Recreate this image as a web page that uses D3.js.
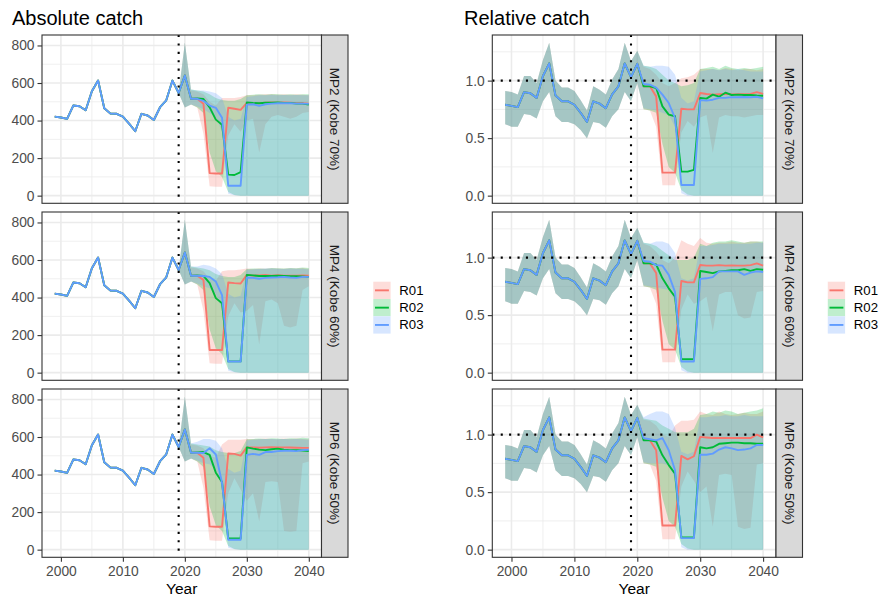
<!DOCTYPE html>
<html>
<head>
<meta charset="utf-8">
<script src="https://cdn.jsdelivr.net/npm/d3@7/dist/d3.min.js"></script>
<style>
  body { margin: 0; background: #fff; }
  text { font-family: "Liberation Sans", Arial, Helvetica, sans-serif; }
</style>
</head>
<body>
<svg id="chart" width="882" height="601"></svg>
<script>
// ---- categories ----
const scenarios = ["R01", "R02", "R03"];
const scenarioColours = ["#F8766D", "#00BA38", "#619CFF"];
const procedures = ["MP2 (Kobe 70%)", "MP4 (Kobe 60%)", "MP6 (Kobe 50%)"];
const columnTitles = ["Absolute catch", "Relative catch"];

const histYears = [1999, 2000, 2001, 2002, 2003, 2004, 2005, 2006, 2007, 2008, 2009,
                   2010, 2011, 2012, 2013, 2014, 2015, 2016, 2017, 2018, 2019];
const projYears = [2020, 2021, 2022, 2023, 2024, 2025, 2026, 2027, 2028, 2029, 2030,
                   2031, 2032, 2033, 2034, 2035, 2036, 2037, 2038, 2039, 2040];
const refYear = 2019;
const refRelative = 1.0;

// ---- tick labels ----
const xTicks = [2000, 2010, 2020, 2030, 2040];
const xMinor = [2005, 2015, 2025, 2035];
const absTicks = [0, 200, 400, 600, 800];
const absMinor = [100, 300, 500, 700];
const relTicks = [0, 0.5, 1.0];
const relTickLabels = ["0.0", "0.5", "1.0"];
const relMinor = [0.25, 0.75, 1.25];

// ---- historical catch ----
const histCatch = [421, 416, 409, 480, 476, 455, 556, 613, 466, 437, 436,
                   421, 384, 343, 436, 427, 403, 471, 508, 613, 547];
const histRel   = [0.79, 0.78, 0.77, 0.90, 0.89, 0.85, 1.04, 1.15, 0.87, 0.82, 0.82,
                   0.79, 0.72, 0.64, 0.82, 0.80, 0.76, 0.88, 0.95, 1.15, 1.03];
const histRelLo = [0.62, 0.60, 0.60, 0.71, 0.70, 0.67, 0.82, 0.90, 0.69, 0.64, 0.64,
                   0.62, 0.57, 0.50, 0.64, 0.63, 0.59, 0.69, 0.75, 0.90, 0.82];
const histRelHi = [0.91, 0.90, 0.88, 1.04, 1.04, 0.98, 1.18, 1.33, 1.00, 0.94, 0.94,
                   0.91, 0.83, 0.74, 0.95, 0.92, 0.88, 1.01, 1.10, 1.33, 1.17];

// ---- projected absolute catch: median, lower, upper (2020-2040) ----
const absMP2R01   = [640, 516, 516, 490, 120, 118, 118, 468, 463, 457, 494, 490, 492, 495, 497, 495, 497, 495, 493, 492, 490];
const absMP2R01lo = [470, 485, 470, 330, 50, 48, 48, 320, 380, 340, 400, 410, 230, 380, 420, 430, 420, 410, 420, 440, 445];
const absMP2R01hi = [815, 560, 555, 540, 500, 480, 520, 520, 520, 525, 535, 535, 538, 540, 540, 538, 540, 538, 540, 538, 535];
const absMP2R02   = [640, 516, 518, 515, 470, 405, 378, 112, 110, 125, 497, 494, 492, 495, 495, 497, 494, 494, 490, 490, 485];
const absMP2R02lo = [470, 485, 470, 440, 230, 130, 100, 20, 3, 0, 0, 0, 0, 0, 0, 0, 0, 0, 0, 0, 0];
const absMP2R02hi = [815, 565, 560, 555, 540, 520, 510, 505, 505, 515, 535, 538, 540, 538, 542, 540, 538, 540, 538, 540, 540];
const absMP2R03   = [640, 516, 516, 505, 480, 468, 415, 53, 53, 53, 485, 487, 478, 487, 490, 492, 492, 492, 490, 490, 489];
const absMP2R03lo = [470, 485, 475, 460, 440, 420, 340, 10, 2, 0, 0, 0, 0, 0, 0, 0, 0, 0, 0, 0, 0];
const absMP2R03hi = [815, 565, 560, 560, 555, 545, 520, 420, 400, 410, 525, 530, 535, 535, 536, 535, 536, 535, 536, 535, 535];

const absMP4R01   = [640, 516, 516, 494, 121, 121, 121, 480, 477, 475, 521, 517, 518, 520, 517, 519, 517, 516, 517, 518, 517];
const absMP4R01lo = [470, 485, 470, 330, 50, 48, 48, 300, 370, 320, 330, 360, 150, 380, 390, 370, 250, 240, 250, 440, 460];
const absMP4R01hi = [815, 560, 555, 540, 500, 490, 540, 545, 545, 550, 555, 552, 555, 553, 556, 555, 553, 556, 555, 557, 552];
const absMP4R02   = [640, 516, 518, 515, 477, 397, 370, 60, 60, 60, 521, 518, 515, 515, 515, 516, 515, 514, 514, 513, 510];
const absMP4R02lo = [470, 485, 470, 440, 230, 130, 100, 20, 3, 0, 0, 0, 0, 0, 0, 0, 0, 0, 0, 0, 0];
const absMP4R02hi = [815, 565, 560, 555, 545, 525, 515, 510, 510, 520, 552, 555, 555, 553, 558, 556, 555, 558, 556, 560, 558];
const absMP4R03   = [640, 516, 516, 515, 510, 485, 413, 59, 59, 59, 507, 505, 500, 505, 507, 508, 510, 507, 505, 510, 510];
const absMP4R03lo = [470, 485, 475, 460, 450, 420, 340, 10, 2, 0, 0, 0, 0, 0, 0, 0, 0, 0, 0, 0, 0];
const absMP4R03hi = [815, 565, 565, 575, 570, 555, 525, 420, 400, 410, 548, 550, 552, 555, 555, 553, 552, 555, 553, 553, 550];

const absMP6R01   = [640, 516, 516, 489, 124, 122, 122, 512, 510, 501, 545, 545, 543, 545, 546, 545, 545, 544, 543, 542, 542];
const absMP6R01lo = [470, 485, 470, 330, 50, 48, 48, 300, 380, 320, 260, 300, 150, 360, 365, 360, 100, 95, 100, 460, 470];
const absMP6R01hi = [815, 560, 555, 540, 500, 490, 560, 585, 585, 585, 590, 588, 590, 592, 590, 588, 592, 590, 592, 590, 588];
const absMP6R02   = [640, 516, 518, 520, 505, 410, 360, 60, 60, 60, 545, 538, 533, 530, 535, 538, 533, 530, 530, 528, 525];
const absMP6R02lo = [470, 485, 470, 440, 230, 130, 100, 20, 3, 0, 0, 0, 0, 0, 0, 0, 0, 0, 0, 0, 0];
const absMP6R02hi = [815, 565, 560, 555, 550, 530, 520, 515, 515, 525, 588, 590, 592, 590, 594, 592, 590, 594, 592, 596, 594];
const absMP6R03   = [640, 516, 516, 515, 540, 507, 356, 53, 53, 53, 505, 510, 505, 520, 520, 525, 527, 527, 525, 530, 532];
const absMP6R03lo = [470, 485, 475, 460, 455, 430, 330, 10, 2, 0, 0, 0, 0, 0, 0, 0, 0, 0, 0, 0, 0];
const absMP6R03hi = [815, 565, 575, 590, 590, 580, 540, 430, 410, 420, 582, 585, 588, 590, 590, 588, 590, 588, 590, 588, 585];

// ---- projected relative catch: median, lower, upper (2020-2040) ----
const relMP2R01   = [1.146, 0.951, 0.95, 0.863, 0.20, 0.20, 0.20, 0.756, 0.75, 0.75, 0.892, 0.884, 0.878, 0.882, 0.885, 0.88, 0.882, 0.882, 0.885, 0.90, 0.884];
const relMP2R01lo = [0.98, 0.75, 0.74, 0.60, 0.09, 0.09, 0.09, 0.55, 0.65, 0.60, 0.68, 0.70, 0.37, 0.68, 0.70, 0.69, 0.69, 0.68, 0.69, 0.70, 0.70];
const relMP2R01hi = [1.26, 1.12, 1.10, 1.05, 0.98, 0.95, 0.98, 1.02, 1.03, 1.05, 1.10, 1.10, 1.10, 1.09, 1.11, 1.10, 1.09, 1.10, 1.10, 1.09, 1.10];
const relMP2R02   = [1.146, 0.951, 0.95, 0.936, 0.776, 0.704, 0.69, 0.209, 0.209, 0.224, 0.849, 0.843, 0.878, 0.86, 0.895, 0.875, 0.878, 0.875, 0.875, 0.87, 0.868];
const relMP2R02lo = [0.98, 0.75, 0.74, 0.72, 0.45, 0.25, 0.20, 0.05, 0.01, 0, 0, 0, 0, 0, 0, 0, 0, 0, 0, 0, 0];
const relMP2R02hi = [1.26, 1.13, 1.12, 1.10, 1.05, 1.00, 0.98, 0.95, 0.96, 0.98, 1.10, 1.11, 1.12, 1.10, 1.13, 1.11, 1.10, 1.11, 1.10, 1.11, 1.12];
const relMP2R03   = [1.146, 0.97, 0.965, 0.94, 0.878, 0.805, 0.675, 0.093, 0.093, 0.093, 0.83, 0.826, 0.834, 0.85, 0.85, 0.856, 0.856, 0.858, 0.855, 0.86, 0.845];
const relMP2R03lo = [0.98, 0.76, 0.75, 0.74, 0.72, 0.70, 0.60, 0.02, 0, 0, 0, 0, 0, 0, 0, 0, 0, 0, 0, 0, 0];
const relMP2R03hi = [1.26, 1.13, 1.12, 1.13, 1.13, 1.12, 1.05, 0.85, 0.80, 0.82, 1.08, 1.09, 1.10, 1.09, 1.10, 1.09, 1.10, 1.09, 1.08, 1.08, 1.08];

const relMP4R01   = [1.146, 0.951, 0.95, 0.866, 0.20, 0.20, 0.20, 0.797, 0.785, 0.785, 0.936, 0.93, 0.93, 0.935, 0.93, 0.932, 0.93, 0.93, 0.935, 0.95, 0.93];
const relMP4R01lo = [0.98, 0.75, 0.74, 0.60, 0.09, 0.09, 0.09, 0.55, 0.68, 0.60, 0.62, 0.66, 0.36, 0.68, 0.70, 0.70, 0.50, 0.47, 0.48, 0.70, 0.71];
const relMP4R01hi = [1.26, 1.12, 1.10, 1.05, 0.98, 0.95, 1.00, 1.15, 1.12, 1.10, 1.17, 1.13, 1.12, 1.13, 1.13, 1.14, 1.13, 1.13, 1.14, 1.14, 1.13];
const relMP4R02   = [1.146, 0.951, 0.95, 0.94, 0.82, 0.733, 0.66, 0.116, 0.116, 0.116, 0.884, 0.875, 0.865, 0.88, 0.885, 0.89, 0.89, 0.90, 0.885, 0.90, 0.895];
const relMP4R02lo = [0.98, 0.75, 0.74, 0.72, 0.45, 0.25, 0.20, 0.05, 0.01, 0, 0, 0, 0, 0, 0, 0, 0, 0, 0, 0, 0];
const relMP4R02hi = [1.26, 1.13, 1.12, 1.10, 1.06, 1.02, 0.98, 0.98, 0.98, 1.00, 1.12, 1.10, 1.13, 1.14, 1.14, 1.15, 1.14, 1.13, 1.14, 1.14, 1.14];
const relMP4R03   = [1.146, 0.97, 0.965, 0.935, 0.93, 0.85, 0.70, 0.097, 0.097, 0.097, 0.815, 0.82, 0.83, 0.88, 0.88, 0.88, 0.88, 0.85, 0.87, 0.88, 0.875];
const relMP4R03lo = [0.98, 0.76, 0.75, 0.74, 0.73, 0.72, 0.62, 0.02, 0, 0, 0, 0, 0, 0, 0, 0, 0, 0, 0, 0, 0];
const relMP4R03hi = [1.26, 1.13, 1.12, 1.14, 1.14, 1.12, 1.04, 0.82, 0.80, 0.82, 1.10, 1.10, 1.11, 1.12, 1.12, 1.12, 1.12, 1.12, 1.12, 1.13, 1.13];

const relMP6R01   = [1.146, 0.965, 0.95, 0.864, 0.21, 0.21, 0.21, 0.815, 0.785, 0.812, 0.98, 0.975, 0.97, 0.97, 0.97, 0.97, 0.97, 0.97, 0.97, 1.00, 0.975];
const relMP6R01lo = [0.98, 0.75, 0.74, 0.60, 0.09, 0.09, 0.09, 0.55, 0.68, 0.60, 0.50, 0.55, 0.20, 0.65, 0.66, 0.65, 0.20, 0.18, 0.19, 0.74, 0.75];
const relMP6R01hi = [1.26, 1.13, 1.12, 1.08, 1.00, 0.98, 1.08, 1.12, 1.12, 1.13, 1.20, 1.18, 1.17, 1.20, 1.18, 1.17, 1.18, 1.19, 1.18, 1.18, 1.20];
const relMP6R02   = [1.146, 0.95, 0.95, 0.94, 0.82, 0.735, 0.66, 0.107, 0.107, 0.107, 0.89, 0.88, 0.89, 0.92, 0.925, 0.93, 0.93, 0.925, 0.925, 0.92, 0.92];
const relMP6R02lo = [0.98, 0.75, 0.74, 0.72, 0.45, 0.25, 0.20, 0.05, 0.01, 0, 0, 0, 0, 0, 0, 0, 0, 0, 0, 0, 0];
const relMP6R02hi = [1.26, 1.14, 1.13, 1.12, 1.08, 1.05, 1.02, 1.02, 1.02, 1.05, 1.17, 1.18, 1.20, 1.19, 1.21, 1.20, 1.18, 1.19, 1.20, 1.21, 1.23];
const relMP6R03   = [1.146, 0.97, 0.96, 0.95, 0.97, 0.864, 0.69, 0.10, 0.10, 0.10, 0.826, 0.825, 0.835, 0.87, 0.89, 0.88, 0.865, 0.87, 0.88, 0.91, 0.91];
const relMP6R03lo = [0.98, 0.76, 0.75, 0.75, 0.75, 0.73, 0.62, 0.02, 0, 0, 0, 0, 0, 0, 0, 0, 0, 0, 0, 0, 0];
const relMP6R03hi = [1.26, 1.15, 1.18, 1.20, 1.20, 1.18, 1.06, 0.85, 0.83, 0.85, 1.15, 1.15, 1.16, 1.16, 1.17, 1.16, 1.16, 1.17, 1.16, 1.16, 1.16];

// projections grouped by [procedure][scenario] for each column
const absProj = [
  [[absMP2R01, absMP2R01lo, absMP2R01hi], [absMP2R02, absMP2R02lo, absMP2R02hi], [absMP2R03, absMP2R03lo, absMP2R03hi]],
  [[absMP4R01, absMP4R01lo, absMP4R01hi], [absMP4R02, absMP4R02lo, absMP4R02hi], [absMP4R03, absMP4R03lo, absMP4R03hi]],
  [[absMP6R01, absMP6R01lo, absMP6R01hi], [absMP6R02, absMP6R02lo, absMP6R02hi], [absMP6R03, absMP6R03lo, absMP6R03hi]]
];
const relProj = [
  [[relMP2R01, relMP2R01lo, relMP2R01hi], [relMP2R02, relMP2R02lo, relMP2R02hi], [relMP2R03, relMP2R03lo, relMP2R03hi]],
  [[relMP4R01, relMP4R01lo, relMP4R01hi], [relMP4R02, relMP4R02lo, relMP4R02hi], [relMP4R03, relMP4R03lo, relMP4R03hi]],
  [[relMP6R01, relMP6R01lo, relMP6R01hi], [relMP6R02, relMP6R02lo, relMP6R02hi], [relMP6R03, relMP6R03lo, relMP6R03hi]]
];

// ---- layout ----
const svg = d3.select("#chart");
const rowTops = [35, 212, 389];
const panelH = 168.3;
const stripW = 26.5;
const ribbonAlpha = 0.25;
const gridCol = "#EBEBEB";
const inkCol = "#333333";

const columns = [
  { key: "abs", title: columnTitles[0], titleX: 12, x0: 42, x1: 321.5, legendX: 373.3,
    ticks: absTicks, tickLabels: absTicks.map(String), minor: absMinor, proj: absProj },
  { key: "rel", title: columnTitles[1], titleX: 464, x0: 492.3, x1: 776, legendX: 827.8,
    ticks: relTicks, tickLabels: relTickLabels, minor: relMinor, proj: relProj }
];

// build the table of lines and ribbons per panel
function panelSeries(col, p) {
  return scenarios.map((s, i) => {
    const [med, lo, hi] = col.proj[p][i];
    const line = histYears.map((yr, k) => ({ year: yr, v: col.key === "abs" ? histCatch[k] : histRel[k] }))
      .concat(projYears.map((yr, k) => ({ year: yr, v: med[k] })));
    let band;
    if (col.key === "abs") {
      const k0 = histYears.indexOf(refYear);
      band = [{ year: refYear, lo: histCatch[k0], hi: histCatch[k0] }]
        .concat(projYears.map((yr, k) => ({ year: yr, lo: lo[k], hi: hi[k] })));
    } else {
      band = histYears.map((yr, k) => ({ year: yr, lo: histRelLo[k], hi: histRelHi[k] }))
        .concat(projYears.map((yr, k) => ({ year: yr, lo: lo[k], hi: hi[k] })));
    }
    return { scenario: s, colour: scenarioColours[i], line, band };
  });
}

const yearMin = d3.min(histYears), yearMax = d3.max(projYears);
const yearPad = (yearMax - yearMin) * 0.05;

columns.forEach((col, ci) => {
  const x = d3.scaleLinear().domain([yearMin - yearPad, yearMax + yearPad]).range([col.x0, col.x1]);
  const all = col.proj.flat().flatMap(d => d[2]).concat(col.key === "rel" ? histRelHi : histCatch);
  const vMax = d3.max(all);
  const yDomain = [-0.05 * vMax, 1.05 * vMax];

  // column title
  svg.append("text").attr("x", col.titleX).attr("y", 25)
    .attr("font-size", 20).attr("fill", "#000").text(col.title);

  procedures.forEach((mp, p) => {
    const top = rowTops[p];
    const y = d3.scaleLinear().domain(yDomain).range([top + panelH, top]);
    const g = svg.append("g");
    const clipId = `clip-${ci}-${p}`;
    svg.append("clipPath").attr("id", clipId).append("rect")
      .attr("x", col.x0).attr("y", top).attr("width", col.x1 - col.x0).attr("height", panelH);

    // grid
    g.selectAll(".gxm").data(xMinor).join("line")
      .attr("x1", d => x(d)).attr("x2", d => x(d)).attr("y1", top).attr("y2", top + panelH)
      .attr("stroke", gridCol).attr("stroke-width", 0.8);
    g.selectAll(".gym").data(col.minor).join("line")
      .attr("x1", col.x0).attr("x2", col.x1).attr("y1", d => y(d)).attr("y2", d => y(d))
      .attr("stroke", gridCol).attr("stroke-width", 0.8);
    g.selectAll(".gxM").data(xTicks).join("line")
      .attr("x1", d => x(d)).attr("x2", d => x(d)).attr("y1", top).attr("y2", top + panelH)
      .attr("stroke", gridCol).attr("stroke-width", 1.6);
    g.selectAll(".gyM").data(col.ticks).join("line")
      .attr("x1", col.x0).attr("x2", col.x1).attr("y1", d => y(d)).attr("y2", d => y(d))
      .attr("stroke", gridCol).attr("stroke-width", 1.6);

    const series = panelSeries(col, p);
    const plot = g.append("g").attr("clip-path", `url(#${clipId})`);

    const area = d3.area().x(d => x(d.year)).y0(d => y(d.lo)).y1(d => y(d.hi));
    const line = d3.line().x(d => x(d.year)).y(d => y(d.v));

    series.forEach(s => {
      plot.append("path").attr("d", area(s.band))
        .attr("fill", s.colour).attr("fill-opacity", ribbonAlpha).attr("stroke", "none");
    });
    series.forEach(s => {
      plot.append("path").attr("d", line(s.line))
        .attr("fill", "none").attr("stroke", s.colour).attr("stroke-width", 1.9)
        .attr("stroke-linejoin", "round");
    });

    // reference lines
    plot.append("line").attr("x1", x(refYear)).attr("x2", x(refYear))
      .attr("y1", top).attr("y2", top + panelH)
      .attr("stroke", "#000").attr("stroke-width", 2.1).attr("stroke-dasharray", "2.1,6.3");
    if (col.key === "rel") {
      plot.append("line").attr("x1", col.x0).attr("x2", col.x1)
        .attr("y1", y(refRelative)).attr("y2", y(refRelative))
        .attr("stroke", "#000").attr("stroke-width", 2.1).attr("stroke-dasharray", "2.1,6.3");
    }

    // panel border
    g.append("rect").attr("x", col.x0).attr("y", top)
      .attr("width", col.x1 - col.x0).attr("height", panelH)
      .attr("fill", "none").attr("stroke", inkCol).attr("stroke-width", 1.1);

    // strip
    g.append("rect").attr("x", col.x1).attr("y", top).attr("width", stripW).attr("height", panelH)
      .attr("fill", "#D9D9D9").attr("stroke", inkCol).attr("stroke-width", 1.1);
    g.append("text")
      .attr("transform", `translate(${col.x1 + stripW / 2},${top + panelH / 2}) rotate(90)`)
      .attr("text-anchor", "middle").attr("dominant-baseline", "central")
      .attr("font-size", 13.5).attr("fill", "#1A1A1A").text(mp);

    // y axis
    const yAxis = d3.axisLeft(y).tickValues(col.ticks)
      .tickFormat((d, i) => col.tickLabels[i]).tickSize(4.5).tickPadding(3);
    const ya = svg.append("g").attr("transform", `translate(${col.x0},0)`).call(yAxis);
    ya.select(".domain").remove();
    ya.selectAll(".tick line").attr("stroke", inkCol).attr("stroke-width", 1.1);
    ya.selectAll(".tick text").attr("fill", "#4D4D4D").attr("font-size", 13.8)
      .attr("font-family", "Liberation Sans, Arial, sans-serif");

    // x axis on bottom row only
    if (p === procedures.length - 1) {
      const xAxis = d3.axisBottom(x).tickValues(xTicks).tickFormat(d3.format("d"))
        .tickSize(4.5).tickPadding(4);
      const xa = svg.append("g").attr("transform", `translate(0,${top + panelH})`).call(xAxis);
      xa.select(".domain").remove();
      xa.selectAll(".tick line").attr("stroke", inkCol).attr("stroke-width", 1.1);
      xa.selectAll(".tick text").attr("fill", "#4D4D4D").attr("font-size", 13.8)
        .attr("font-family", "Liberation Sans, Arial, sans-serif");
      svg.append("text").attr("x", (col.x0 + col.x1) / 2).attr("y", 594)
        .attr("text-anchor", "middle").attr("font-size", 15.5).attr("fill", "#000").text("Year");
    }
  });

  // legend
  const keySize = 17.3;
  const legTop = 281.7;
  const leg = svg.append("g");
  scenarios.forEach((s, i) => {
    const ky = legTop + i * keySize;
    leg.append("rect").attr("x", col.legendX).attr("y", ky).attr("width", keySize).attr("height", keySize)
      .attr("fill", "#fff");
    leg.append("rect").attr("x", col.legendX).attr("y", ky).attr("width", keySize).attr("height", keySize)
      .attr("fill", scenarioColours[i]).attr("fill-opacity", ribbonAlpha);
    leg.append("line").attr("x1", col.legendX + 1.7).attr("x2", col.legendX + keySize - 1.7)
      .attr("y1", ky + keySize / 2).attr("y2", ky + keySize / 2)
      .attr("stroke", scenarioColours[i]).attr("stroke-width", 1.9);
    leg.append("text").attr("x", col.legendX + 26).attr("y", ky + keySize / 2)
      .attr("dominant-baseline", "central").attr("font-size", 13.2).attr("fill", "#000").text(s);
  });
});
</script>
</body>
</html>
